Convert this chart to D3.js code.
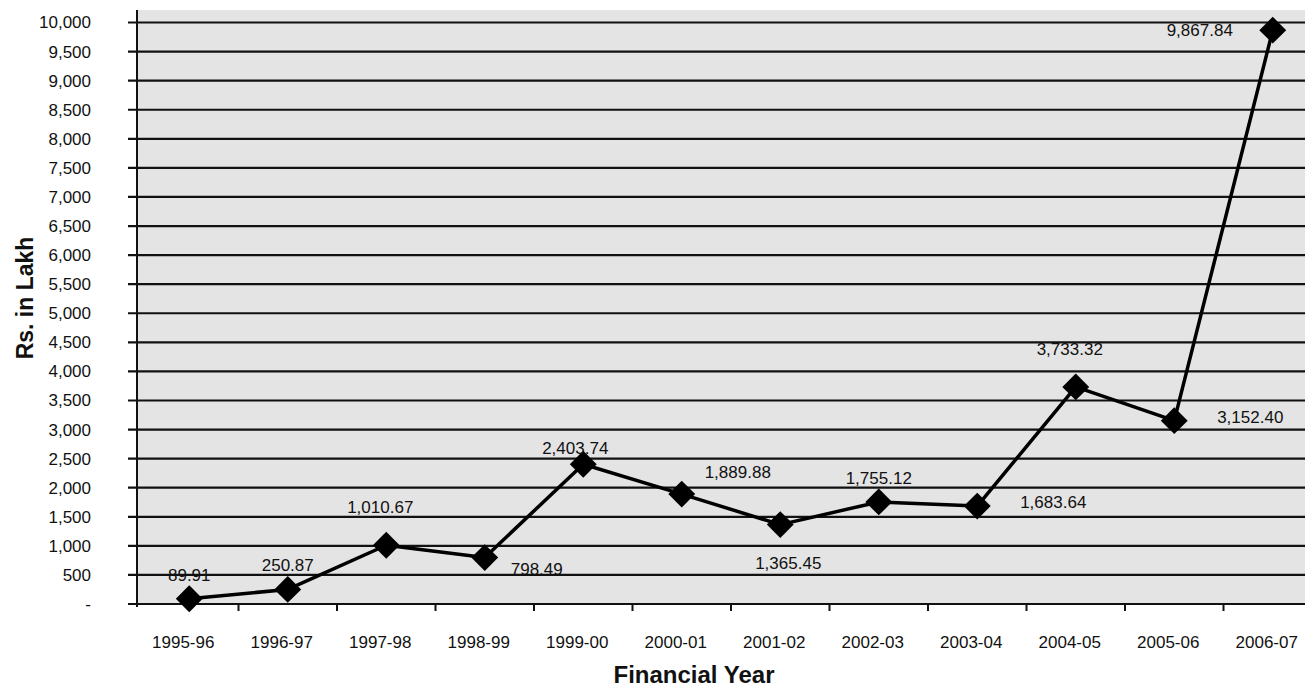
<!DOCTYPE html>
<html>
<head>
<meta charset="utf-8">
<script src="https://cdn.jsdelivr.net/npm/d3@7"></script>
<style>
  html, body { margin: 0; padding: 0; background: #ffffff; }
  svg { display: block; font-family: Arial, "Liberation Sans", sans-serif; }
</style>
</head>
<body>
<svg id="chart" width="1315" height="687"></svg>
<script>
// Financial years on the category axis
const years = ["1995-96", "1996-97", "1997-98", "1998-99", "1999-00", "2000-01",
               "2001-02", "2002-03", "2003-04", "2004-05", "2005-06", "2006-07"];
// Amount per year, Rs. in Lakh
const amounts = [89.91, 250.87, 1010.67, 798.49, 2403.74, 1889.88,
                 1365.45, 1755.12, 1683.64, 3733.32, 3152.40, 9867.84];
// Value-axis ticks
const yTicks = d3.range(0, 10001, 500);
// Where each value label sits relative to its marker
const labelPlacement = ["above", "above", "aboveHigh", "belowRight", "aboveLeft", "aboveRight",
                        "below", "above", "right", "aboveHigh", "right", "left"];

const placementOffset = {
  above:      [0, -24],
  aboveHigh:  [-6, -38],
  aboveLeft:  [-8, -16],
  aboveRight: [56, -22],
  below:      [8, 38],
  belowRight: [52, 11],
  right:      [76, -4],
  left:       [-73, 0]
};

const svg = d3.select("#chart");
const plotLeft = 137, plotRight = 1305, plotTop = 10;

const x = d3.scaleBand().domain(years).range([140, 1322]).padding(0);
const y = d3.scaleLinear().domain([0, 10000]).range([604, 22.5]);

// plot background
svg.append("rect")
  .attr("x", plotLeft).attr("y", plotTop)
  .attr("width", plotRight - plotLeft).attr("height", y(0) - plotTop)
  .attr("fill", "#e4e4e4");

// horizontal gridlines
svg.append("g")
  .selectAll("line")
  .data(yTicks.filter(d => d > 0))
  .join("line")
  .attr("x1", 128).attr("x2", plotRight)
  .attr("y1", d => y(d)).attr("y2", d => y(d))
  .attr("stroke", "#111").attr("stroke-width", 2.2);

// value axis
const yAxis = d3.axisLeft(y)
  .tickValues(yTicks)
  .tickSize(0)
  .tickPadding(46)
  .tickFormat(d => d === 0 ? "-" : d3.format(",")(d));
const yG = svg.append("g").attr("transform", `translate(${plotLeft},0)`).call(yAxis);
yG.select(".domain").remove();
yG.selectAll("text").attr("font-size", 17).attr("fill", "#111")
  .attr("font-family", "Arial, 'Liberation Sans', sans-serif");
svg.append("line")
  .attr("x1", plotLeft).attr("x2", plotLeft)
  .attr("y1", plotTop).attr("y2", y(0) + 3)
  .attr("stroke", "#111").attr("stroke-width", 2);

// category axis
svg.append("line")
  .attr("x1", 128).attr("x2", plotRight)
  .attr("y1", y(0)).attr("y2", y(0))
  .attr("stroke", "#111").attr("stroke-width", 2.2);
svg.append("g")
  .selectAll("line")
  .data(years.slice(1))
  .join("line")
  .attr("x1", d => x(d)).attr("x2", d => x(d))
  .attr("y1", y(0)).attr("y2", y(0) + 7)
  .attr("stroke", "#111").attr("stroke-width", 2);
svg.append("g")
  .selectAll("text")
  .data(years)
  .join("text")
  .attr("x", d => x(d) + x.bandwidth() / 2 - 6)
  .attr("y", 648)
  .attr("text-anchor", "middle")
  .attr("font-size", 17)
  .attr("fill", "#111")
  .text(d => d);

// axis titles
svg.append("text")
  .attr("transform", "translate(33,298) rotate(-90)")
  .attr("text-anchor", "middle")
  .attr("font-size", 23).attr("font-weight", "bold").attr("fill", "#111")
  .text("Rs. in Lakh");
svg.append("text")
  .attr("x", 694).attr("y", 683)
  .attr("text-anchor", "middle")
  .attr("font-size", 24).attr("font-weight", "bold").attr("fill", "#111")
  .text("Financial Year");

// series line
const pts = years.map((yr, i) => [x(yr) + x.bandwidth() / 2, y(amounts[i])]);
svg.append("path")
  .attr("d", d3.line()(pts))
  .attr("fill", "none")
  .attr("stroke", "#000").attr("stroke-width", 3.5)
  .attr("stroke-linejoin", "round");

// diamond markers
svg.append("g")
  .selectAll("path")
  .data(pts)
  .join("path")
  .attr("transform", d => `translate(${d[0]},${d[1]}) rotate(45)`)
  .attr("d", "M-9.5,-9.5H9.5V9.5H-9.5Z")
  .attr("fill", "#000");

// value labels
svg.append("g")
  .selectAll("text")
  .data(amounts)
  .join("text")
  .attr("x", (d, i) => pts[i][0] + placementOffset[labelPlacement[i]][0])
  .attr("y", (d, i) => pts[i][1] + placementOffset[labelPlacement[i]][1])
  .attr("dy", "0.35em")
  .attr("text-anchor", "middle")
  .attr("font-size", 17)
  .attr("fill", "#111")
  .text(d => d3.format(",.2f")(d));
</script>
</body>
</html>
